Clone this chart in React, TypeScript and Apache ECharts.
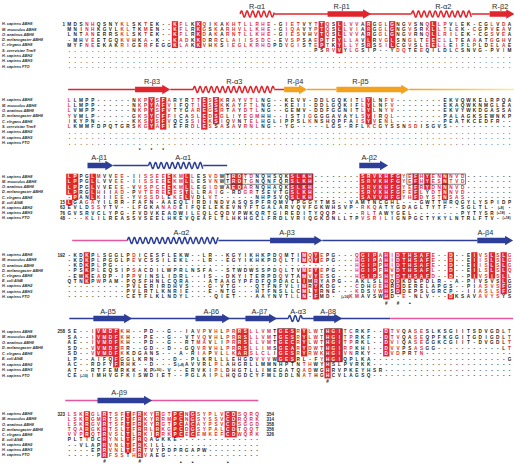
import React, { useEffect, useRef } from "react";
import * as echarts from "echarts";

const W = 514;
const H = 465;
const COL0 = 69.3;
const COLW = 5.87;
const NAME_PX = 2;

const RED = "#e1252c";
const BLUE = "#2c3e98";
const PINK = "#e4579c";
const ORANGE = "#f4a11c";
const TXT = "#1e1e1e";

const namesA = ["H. sapiens ABH8", "M. musculus ABH8", "O. anatinus ABH8", "D. melanogaster ABH8", "C. elegans ABH8", "S. cerevisiae Trm9", "H. sapiens ABH2", "H. sapiens ABH3", "H. sapiens FTO"];
const namesB = ["H. sapiens ABH8", "M. musculus ABH8", "O. anatinus ABH8", "D. melanogaster ABH8", "C. elegans ABH8", "E. coli AlkB", "H. sapiens ABH2", "H. sapiens ABH3", "H. sapiens FTO"];

const DOTS = "............................................................................";

// ---------- Block 1 ----------
const b1Seqs = [
  "MDSNHQSNYKLSKTEK--KFLKKQIKAKHTLLRHE-GIETVYTTQSLLVVARGGLGNGVSNQLLPVLEK-CGLVDA",
  "MNINHKGVLKLTKMEN--KFLRKGSKARHVLLKHE-GIQAVYPTQSLLVIARGGLGNGVSRKLLTLEK-CGPVEAV",
  "LNTANERRSKLSKTEK--KFLRKDAKARNTLLKHE-GIESVHVTQSLLVVARGGLGNGVRNQLLRILEK-CGSVEA",
  "-MHVEETGQKVHKA-K--KADKKDRRCLAIISSDC-EVSPSAEPTFYLLAVLRVGLSNGLTEECLLTEAAATGGHV",
  "MYFNEEKAKRIGERFEGGKLAKKVHKSIEGLKRHDPDVGISTEPTKYLLYSRSSILCGVSLEELLEIFLPLDELAE",
  "..........................................PSRVVYLGSIP--YDQTEEQILDLCSNVG-PVIM",
  DOTS,
  DOTS,
  DOTS,
];
const b1Fills = [[18, 18, 0, 4], [22, 22, 0, 4], [43, 43, 0, 4], [46, 46, 0, 5], [51, 51, 0, 4], [55, 55, 0, 4], [62, 62, 0, 4]];
const b1Reds = [
  [3, 4, 0, 4], [9, 10, 0, 4], [13, 13, 0, 4], [19, 20, 0, 4], [23, 23, 0, 4], [25, 25, 0, 4], [27, 31, 0, 4], [32, 34, 0, 4],
  [37, 39, 0, 4], [42, 42, 0, 4], [44, 44, 0, 4], [47, 49, 0, 4], [53, 54, 0, 4], [58, 58, 0, 4], [61, 61, 0, 4], [63, 64, 0, 4],
  [66, 66, 0, 4], [69, 69, 0, 4], [72, 72, 0, 4], [74, 74, 0, 4],
  [44, 45, 5, 5], [48, 49, 5, 5], [56, 57, 5, 5], [60, 60, 5, 5], [66, 66, 5, 5], [74, 74, 5, 5],
];
const b1SS = [["helix", 29.1, 34.9, "r"], ["line", 34.9, 58.3, "r"], ["arrow", 44, 51.4, "r"], ["helix", 58.3, 68.5, "r"], ["line", 68.5, 71.6, "r"], ["arrow", 71.6, 75.8, "r"]];
const b1Labels = [["R-α1", 32], ["R-β1", 46.4], ["R-α2", 63.7], ["R-β2", 73.4]];
const b1Left = ["1", "", "", "", "", "", "", "", ""];

// ---------- Block 2 ----------
const b2Seqs = [
  "LLMPP------NKPYSFARYRTTESSKRAYVTLNG--KEVV-DDLGQKITLYLNFV--------EKVQWKELRPQA",
  "LLMPP------NKPYAFVIFQTIESSKKAYFTLNG--KEII-DDLGQKIFLYLNFV--------EKAQWKNMGLEA",
  "LVMPP------NKPYSFVTYGAREGSRTAYDTLNG--GEMV-DDFGGNITLYLNYV--------EKVYWKDGASSA",
  "YVMLP------GKSYCFFICASLEDSGLIYEGMHH--ISTIGGGGAVAYLSYIRQL--------PALAGKSEWNKP",
  "IKYPN------KKSYSFVQCSSIEKSIQVNTELHGLIPPSLKNSHQPFAISYVENL--------PEATKCEDFR--",
  "LKMMFDPQTGRSKGYAFIEFRDLESSASAVRNLNG--YG-----LGS-RFLKCGYSSNSDISGVS-----------",
  DOTS,
  DOTS,
  DOTS,
];
const b2Fills = [[14, 14, 0, 5], [16, 16, 0, 5], [23, 23, 0, 5], [25, 25, 0, 4], [51, 51, 0, 4]];
const b2Reds = [
  [0, 0, 0, 5], [12, 13, 0, 5], [15, 15, 0, 5], [17, 17, 0, 5], [21, 22, 0, 5], [24, 24, 0, 5], [26, 26, 0, 5], [28, 28, 0, 5], [30, 32, 0, 5],
  [41, 41, 0, 4], [50, 50, 0, 4], [52, 52, 0, 4], [54, 55, 0, 4],
  [51, 52, 5, 5], [58, 59, 5, 5],
];
const b2SS = [["line", -0.2, 11.2, "r"], ["arrow", 11.2, 17.2, "r"], ["line", 17.2, 21.1, "r"], ["helix", 21.1, 34.9, "r"], ["line", 34.9, 36.6, "r"], ["arrow", 36.6, 40.5, "o"], ["line", 40.5, 45.5, "o"], ["arrow", 45.5, 57.9, "o"], ["line", 57.9, 75.8, "g"]];
const b2Labels = [["R-β3", 14.1], ["R-α3", 28.1], ["R-β4", 38.5], ["R-β5", 49.6]];
const b2Marks = [["*", 12], ["*", 14], ["*", 16]];

// ---------- Block 3 ----------
const b3Seqs = [
  "LPPGLMVVEE-IISSEEEKMLLESVDWTRDTDNQHSQKSLKH--------SRVKHFGYEFHYENNNVD--------",
  "LPPGLLVVEE-IISSEEEKMLLESVNWTRDTGNQNFQRSLKH--------SRVKHFGYEFHYESNTVD--------",
  "LPPGLVVEEE-VVSPCEEKMLLEGIDWAEDARNQHAQKSLKH--------SRVKHFGYEFRYDNNNVD--------",
  "LPRGLHIIAD-PVTEREEESTLLRAIG-RDGRTSEVTGSLKH--------SRVKHFGFEFLYDTNNVD--------",
  "-PANLKIIEE-YVSSDLEKELVDLVT------NHPSVQSLKH--------SAVVHFGYHFDYSTNSAS--------",
  "LGAGAYILRR-FAFN-AAEQLIRDINDVASQSPFRQMVTPGGYTMS--VAMTNCGHL---GWTTHRQGYLYSPIDP",
  "EVLDSSYTV--LFGKANADEIFQELEKEVNYFTGALARVQVFGKWHSVP-RKQATYGDAGLTYTF--SGLTL-  -",
  "GVSRVCLYPG-FVDVKEADWILEQLCQDVPWKQRTGIREDITYQQP----RLTAWYGEL--------PYTYSR  -",
  "---KLILREASSVSEELHKEVQEAFLTLHKHGCLFRDLVRIQGKDNLLTPVSRILIGNPGCTYKYLNTRLFTV-  ",
];
const b3Fills = [[0, 1, 0, 4], [0, 0, 5, 5], [4, 4, 0, 4], [17, 17, 0, 3], [20, 20, 0, 4], [28, 29, 0, 2], [38, 41, 0, 4], [50, 56, 0, 4], [59, 59, 0, 4], [61, 61, 0, 2], [64, 64, 0, 4]];
const b3Reds = [
  [5, 5, 0, 4], [8, 9, 0, 4], [12, 16, 0, 4], [18, 19, 0, 4], [21, 21, 0, 4], [24, 25, 0, 4], [30, 31, 0, 4],
  [57, 58, 0, 4], [60, 60, 0, 4], [62, 63, 0, 4], [65, 67, 0, 4],
  [3, 4, 5, 5], [4, 5, 6, 6], [16, 18, 6, 6], [50, 52, 6, 8], [3, 3, 8, 8], [51, 54, 8, 8], [22, 22, 7, 7],
];
const b3Boxes = [[27, 41, 0, 1], [58, 67, 0, 1]];
const b3SS = [["arrow", 3.1, 7.5, "b"], ["line", 7.5, 13.5, "b"], ["helix", 13.5, 22.8, "b"], ["line", 22.8, 26.9, "b"], ["arrow", 49.4, 54.3, "b"]];
const b3Labels = [["A-β1", 5.1], ["A-α1", 19.4], ["A-β2", 51.1]];
const b3Left = ["", "", "", "", "", "15", "63", "76", "48"];
const b3Inserts = [[6, 73.5, "(+8)"], [7, 73.5, "(+18)"], [8, 74.5, "(+18)"]];

// ---------- Block 4 ----------
const b4Seqs = [
  "-KDKPLSGGLPDICESFLEKW--LR--KGYIKHKPDQMTIMQYEPG---QGIPAHIDTHSAFE--D--EIVSLSLG",
  "-KDKPLPGGLPEVCSSILEKL--LR--EGYIKHKPDQLTIMQYEPG---HGIPAHIDTHSAFE--D--EIISLSLG",
  "-KDKPLPG-----------------------------------------HGIPPHIDTHSAFE--D--EIISLSLG",
  "-PSKPLEQSIPSACDILWPRLNSFA--STWDWSSPDQLTVMEYEPG---HGIPFHVDTHSAFL--D--EILSLSLQ",
  "-EWKEADP-IPPVINSLIDRL--IS--DKYITERPDQVTAMVYESG---HGIPSHYDTHSAFD--D--PIVSISLL",
  "QTNKPWPAM-PQSFHNLCQRA---ATAAGYPFDFQPDACLIMRYAPG--AKLSLHQDKDEPDLR--A-PIVSVSLG",
  "----------PVLERIRDHVS---G-VTG---QTFNFVLIMRYKDG---CDHGEHRDDERELAPGS--PIASVSFG",
  "----------PVLRTLKNRIE---E-NTG---HTFNSLLCMLYRNE---KDSVWHSDDEPSLGRCP--IIASLSFG",
  "----------CETFLKLNDYL----QIET---AAYNVTLLN-FMD-  KMAVSWHD-E-NLV---DKSAVAVYSYS",
];
const b4Fills = [[3, 3, 0, 5], [40, 40, 0, 8], [42, 42, 0, 8], [50, 52, 0, 4], [54, 54, 0, 8], [56, 56, 0, 7], [57, 61, 0, 4], [65, 65, 0, 4], [65, 65, 8, 8], [69, 69, 0, 4], [72, 72, 0, 4], [74, 74, 0, 7]];
const b4Reds = [
  [5, 5, 0, 4], [11, 11, 0, 4], [36, 36, 0, 4], [41, 41, 0, 4], [43, 43, 0, 4], [49, 49, 0, 4], [53, 53, 0, 4], [55, 55, 0, 4],
  [62, 62, 0, 4], [70, 71, 0, 4], [73, 73, 0, 4], [75, 75, 0, 4],
  [5, 5, 5, 5], [48, 49, 6, 8], [52, 53, 6, 7], [70, 73, 6, 8], [38, 39, 8, 8], [57, 57, 8, 8],
];
const b4SS = [["line", 0.5, 9.9, "p"], ["helix", 9.9, 25.4, "b"], ["line", 25.4, 34.2, "b"], ["arrow", 34.2, 43.1, "b"], ["line", 43.1, 69.5, "b"], ["arrow", 69.5, 75.6, "b"]];
const b4Labels = [["A-α2", 19.1], ["A-β3", 37.1], ["A-β4", 70.9]];
const b4Left = ["192", "", "", "", "", "", "", "", ""];
const b4Marks = [["#", 54], ["#", 56], ["•", 58]];
const b4Inserts = [[8, 47, "(+16)"]];

// ---------- Block 5 ----------
const b5Seqs = [
  "SE--IVMDFKH--PD--G--IAVPVHLPRRSLLVMTGESRYLWTHGITCRKF--DTVQASESLKSGIITSDVGDLT",
  "SA--IVMDFKH--PE--G--VTVQVHLPRRSLLVMTGESRYLWTHGITPRKF--DTVQASEQPFKGGITGDIGDLT",
  "AE--IVMDFKH--PD--G--RTMAVLIPRRSLLVMTGECRYLWTHGITPRKL--DVIQASEGGKCGIIT-DVGDLT",
  "SD--VVMDFRR--GD--D--GQVRVHLPRRSLLIMSGEARYDWTHGIRPKHI--DVVPSASGG-----------LT",
  "SD--VVMDFKKDGANS---A-RIAPVLLKARSLCLIGESRYRWKHGIVNRKY--DVDPRTN----------------",
  "LP--AIFQFGGLKRN---D--PLKRLLLEHGDVVVWGESRL-FYHGIQPLKA-----------------------GFH",
  "AC--RDFYFRHK--D---S AVVRLPLAHGRLLMMNHPTNTHWYHSLPVRKK------------------------",
  "AT--RTFEMRKK-KP -V--ERVKIPLDHGTLLIMEGATQADWGHRVPKEYHSR----------------------",
  "CE  IMHVGFKISWDIET--PGLAIPLHQGDCYFMLDDLNATHGHCVLAGSQ------------------------",
];
const b5Fills = [[5, 8, 0, 4], [8, 8, 5, 6], [29, 30, 0, 4], [36, 38, 0, 5], [40, 40, 0, 4], [44, 44, 0, 8], [45, 46, 0, 5], [54, 54, 0, 4]];
const b5Reds = [
  [4, 4, 0, 4], [9, 9, 0, 4], [22, 23, 0, 4], [25, 25, 0, 4], [27, 28, 0, 4], [31, 34, 0, 4], [39, 39, 0, 4],
  [41, 43, 0, 4], [47, 48, 0, 4], [55, 56, 0, 4], [59, 60, 0, 4], [75, 75, 0, 4],
  [32, 34, 5, 5], [43, 43, 5, 5], [25, 26, 6, 8], [40, 41, 6, 8],
];
const b5Boxes = [[36, 38, 0, 5], [44, 46, 0, 5]];
const b5SS = [["line", 0, 37.3, "b"], ["arrow", 4.1, 10.7, "b"], ["arrow", 21.5, 27.4, "b"], ["arrow", 30, 35.4, "b"], ["helix", 37.3, 39.7, "b"], ["line", 39.7, 54.7, "b"], ["arrow", 41.6, 46.5, "b"], ["line", 54.7, 75.6, "p"]];
const b5Labels = [["A-β5", 6.6], ["A-β6", 24.2], ["A-β7", 32.4], ["A-α3", 39], ["A-β8", 44.1]];
const b5Left = ["258", "", "", "", "", "", "", "", ""];
const b5Marks = [["#", 44]];
const b5Inserts = [[6, 19, "(+8)"], [7, 15, "(+10)"], [8, 2.5, "(+10)"]];

// ---------- Block 6 ----------
const b6Seqs = [
  "LSKRGLRTSFTFRKYRGTPCNGSYPLVCDSQRQ",
  "LSKRGMRTSFTFRKYRRMPCNGSYSSVCDRQRK",
  "LSKRGVRTSFTFRKYRGTPCACAYPSVCDSGGD",
  "TQARGKRTSLTFRRLRKGPCDGSYPALCDTQQT",
  "VVPRQTRVSLTLRKIRRKPCECEMKEFCDWQRK",
  "PLTIDCRYNLTFRQAGKKE--------------",
  "--VLAPRVNLTFRKILL----------------",
  "----EPRVNLTFRTVYPDPRGAPW---------",
  "-----PRFSSTHRVAEG----------------",
];
const b6Fills = [[3, 3, 0, 4], [6, 6, 0, 8], [10, 10, 0, 7], [12, 12, 0, 8], [15, 15, 0, 4], [18, 19, 0, 4], [21, 21, 0, 4], [27, 28, 0, 4]];
const b6Reds = [
  [0, 2, 0, 4], [4, 5, 0, 4], [7, 9, 0, 4], [11, 11, 0, 4], [13, 14, 0, 4], [16, 17, 0, 4], [20, 20, 0, 4], [22, 26, 0, 4], [29, 32, 0, 4],
  [7, 9, 5, 8], [11, 11, 5, 8], [13, 13, 5, 8],
];
const b6SS = [["line", -0.7, 32.2, "p"], ["arrow", 4.8, 14.1, "b"]];
const b6Labels = [["A-β9", 8.5]];
const b6Left = ["323", "", "", "", "", "", "", "", ""];
const b6Right = ["354", "314", "358", "356", "326", "", "", "", ""];
const b6Marks = [["#", 6], ["#", 12], ["•", 19], ["•", 21], ["•", 27]];

// layout of each block (pixels): label line, structure line, first row, row step, marks line
const blocks = [
  { names: namesA, seqs: b1Seqs, fills: b1Fills, reds: b1Reds, boxes: [], ss: b1SS, labels: b1Labels, marks: [], left: b1Left, right: [], inserts: [], labelY: 6, ssY: 14, row0: 24, rowH: 5.3, markY: 0 },
  { names: namesA, seqs: b2Seqs, fills: b2Fills, reds: b2Reds, boxes: [], ss: b2SS, labels: b2Labels, marks: b2Marks, left: [], right: [], inserts: [], labelY: 81.5, ssY: 89.5, row0: 100, rowH: 5.35, markY: 150.5 },
  { names: namesB, seqs: b3Seqs, fills: b3Fills, reds: b3Reds, boxes: b3Boxes, ss: b3SS, labels: b3Labels, marks: [], left: b3Left, right: [], inserts: b3Inserts, labelY: 157, ssY: 165.5, row0: 176.5, rowH: 5.2, markY: 0 },
  { names: namesB, seqs: b4Seqs, fills: b4Fills, reds: b4Reds, boxes: [], ss: b4SS, labels: b4Labels, marks: b4Marks, left: b4Left, right: [], inserts: b4Inserts, labelY: 232, ssY: 240.5, row0: 255, rowH: 5.2, markY: 303 },
  { names: namesB, seqs: b5Seqs, fills: b5Fills, reds: b5Reds, boxes: b5Boxes, ss: b5SS, labels: b5Labels, marks: b5Marks, left: b5Left, right: [], inserts: b5Inserts, labelY: 311, ssY: 318.5, row0: 331.5, rowH: 5.5, markY: 381 },
  { names: namesB, seqs: b6Seqs, fills: b6Fills, reds: b6Reds, boxes: [], ss: b6SS, labels: b6Labels, marks: b6Marks, left: b6Left, right: b6Right, inserts: [], labelY: 392.5, ssY: 400.5, row0: 414, rowH: 5.15, markY: 461.5 },
];

const FONT = '"Liberation Sans", Arial, sans-serif';

function inRange(list: number[][], c: number, r: number) {
  return list.some((q) => c >= q[0] && c <= q[1] && r >= q[2] && r <= q[3]);
}

type Cell = { c: number; y: number; ch: string; kind: number; h: number };
type Txt = { c: number; y: number; text: string; font: string; fill: string; align: string };

const cells: Cell[] = [];
const texts: Txt[] = [];
const ssItems: any[] = [];
const boxItems: any[] = [];
const nameCol = (NAME_PX - COL0) / COLW;

blocks.forEach((b) => {
  b.seqs.forEach((s, r) => {
    const y = b.row0 + r * b.rowH;
    texts.push({ c: nameCol, y, text: b.names[r], font: `italic bold 3.8px ${FONT}`, fill: "#2a2a2a", align: "left" });
    if (b.left[r]) texts.push({ c: -0.75, y, text: b.left[r], font: `bold 4.5px ${FONT}`, fill: TXT, align: "right" });
    if (b.right[r]) texts.push({ c: s.length + 0.6, y, text: b.right[r], font: `bold 4.5px ${FONT}`, fill: TXT, align: "left" });
    for (let c = 0; c < s.length; c++) {
      const ch = s[c];
      if (ch === " ") continue;
      const letter = /[A-Z]/.test(ch);
      let kind = 0;
      if (letter && inRange(b.fills, c, r)) kind = 2;
      else if (letter && inRange(b.reds, c, r)) kind = 1;
      cells.push({ c, y, ch, kind, h: b.rowH });
    }
  });
  b.inserts.forEach((it: any) => {
    texts.push({ c: it[1], y: b.row0 + it[0] * b.rowH, text: it[2], font: `bold 3.4px ${FONT}`, fill: TXT, align: "center" });
  });
  b.labels.forEach((l: any) => {
    texts.push({ c: l[1], y: b.labelY, text: l[0], font: `7.4px ${FONT}`, fill: "#2b2b2b", align: "center" });
  });
  b.marks.forEach((m: any) => {
    texts.push({ c: m[1], y: b.markY, text: m[0], font: `bold ${m[0] === "•" ? 6 : 4.6}px ${FONT}`, fill: TXT, align: "center" });
  });
  b.boxes.forEach((q: any) => {
    boxItems.push({ c0: q[0] - 0.5, c1: q[1] + 0.5, y0: b.row0 + (q[2] - 0.5) * b.rowH, y1: b.row0 + (q[3] + 0.5) * b.rowH });
  });
  const order = { line: 0, helix: 1, arrow: 2 } as any;
  [...b.ss].sort((a: any, z: any) => order[a[0]] - order[z[0]]).forEach((e: any) => {
    ssItems.push({ kind: e[0], c0: e[1], c1: e[2], color: e[3], y: b.ssY });
  });
});

function colorOf(k: string) {
  if (k === "r") return RED;
  if (k === "b") return BLUE;
  if (k === "p") return PINK;
  if (k === "o") return ORANGE;
  return new echarts.graphic.LinearGradient(0, 0, 1, 0, [
    { offset: 0, color: ORANGE },
    { offset: 0.45, color: "#f6c24a" },
    { offset: 1, color: "#f8ee9c" },
  ]);
}

function buildOption() {
  return {
    animation: false,
    backgroundColor: "#ffffff",
    grid: { left: 0, right: 0, top: 0, bottom: 0 },
    xAxis: { type: "value", min: -COL0 / COLW, max: (W - COL0) / COLW, show: false },
    yAxis: { type: "value", min: 0, max: H, inverse: true, show: false },
    series: [
      {
        type: "custom",
        name: "structure",
        coordinateSystem: "cartesian2d",
        silent: true,
        clip: false,
        progressive: 0,
        data: ssItems.map((s) => [s.c0, s.y]),
        renderItem: (params: any, api: any) => {
          const s = ssItems[params.dataIndex];
          const p0 = api.coord([s.c0, s.y]);
          const p1 = api.coord([s.c1, s.y]);
          const col = colorOf(s.color);
          const y = p0[1];
          if (s.kind === "line") {
            return { type: "rect", shape: { x: p0[0], y: y - 0.75, width: p1[0] - p0[0], height: 1.5 }, style: { fill: col } };
          }
          if (s.kind === "arrow") {
            const len = p1[0] - p0[0];
            const head = Math.min(8, len * 0.42);
            const bx = p1[0] - head;
            return {
              type: "polygon",
              shape: { points: [[p0[0], y - 2.7], [bx, y - 2.7], [bx, y - 4.7], [p1[0], y], [bx, y + 4.7], [bx, y + 2.7], [p0[0], y + 2.7]] },
              style: { fill: col },
            };
          }
          const pts: number[][] = [];
          const len = p1[0] - p0[0];
          const period = 5.6;
          const n = Math.max(10, Math.round(len / 0.4));
          for (let i = 0; i <= n; i++) {
            const x = p0[0] + (len * i) / n;
            pts.push([x, y - 3 * Math.sin((2 * Math.PI * (x - p0[0])) / period)]);
          }
          return { type: "polyline", shape: { points: pts }, style: { stroke: col, fill: null, lineWidth: 1.5 } };
        },
      },
      {
        type: "custom",
        name: "residues",
        coordinateSystem: "cartesian2d",
        silent: true,
        clip: false,
        progressive: 0,
        data: cells.map((d) => [d.c, d.y]),
        renderItem: (params: any, api: any) => {
          const d = cells[params.dataIndex];
          const p = api.coord([d.c, d.y]);
          const w = api.size([1, 0])[0];
          const h = d.h;
          const children: any[] = [];
          if (d.kind === 2) {
            children.push({ type: "rect", shape: { x: p[0] - w / 2 - 0.2, y: p[1] - h / 2 - 0.2, width: w + 0.4, height: h + 0.4 }, style: { fill: RED } });
          }
          children.push({
            type: "text",
            x: p[0],
            y: p[1] + 0.2,
            style: {
              text: d.ch,
              fill: d.kind === 2 ? "#ffffff" : d.kind === 1 ? RED : TXT,
              font: `bold 4.7px ${FONT}`,
              align: "center",
              verticalAlign: "middle",
              textAlign: "center",
              textVerticalAlign: "middle",
            },
          });
          return { type: "group", children };
        },
      },
      {
        type: "custom",
        name: "frames",
        coordinateSystem: "cartesian2d",
        silent: true,
        clip: false,
        progressive: 0,
        data: boxItems.map((q) => [q.c0, q.y0]),
        renderItem: (params: any, api: any) => {
          const q = boxItems[params.dataIndex];
          const a = api.coord([q.c0, q.y0]);
          const z = api.coord([q.c1, q.y1]);
          return { type: "rect", shape: { x: a[0], y: a[1], width: z[0] - a[0], height: z[1] - a[1] }, style: { fill: null, stroke: "#333333", lineWidth: 0.6 } };
        },
      },
      {
        type: "custom",
        name: "labels",
        coordinateSystem: "cartesian2d",
        silent: true,
        clip: false,
        progressive: 0,
        data: texts.map((t) => [t.c, t.y]),
        renderItem: (params: any, api: any) => {
          const t = texts[params.dataIndex];
          const p = api.coord([t.c, t.y]);
          return {
            type: "text",
            x: p[0],
            y: p[1] + 0.2,
            style: {
              text: t.text,
              fill: t.fill,
              font: t.font,
              align: t.align,
              verticalAlign: "middle",
              textAlign: t.align,
              textVerticalAlign: "middle",
            },
          };
        },
      },
    ],
  };
}

export default function App() {
  const ref = useRef<HTMLDivElement>(null);
  useEffect(() => {
    if (!ref.current) return;
    const chart = echarts.init(ref.current, undefined, { renderer: "svg", width: W, height: H });
    chart.setOption(buildOption() as any);
    return () => chart.dispose();
  }, []);
  return <div ref={ref} style={{ position: "absolute", left: 0, top: 0, width: W, height: H, background: "#fff" }} />;
}
